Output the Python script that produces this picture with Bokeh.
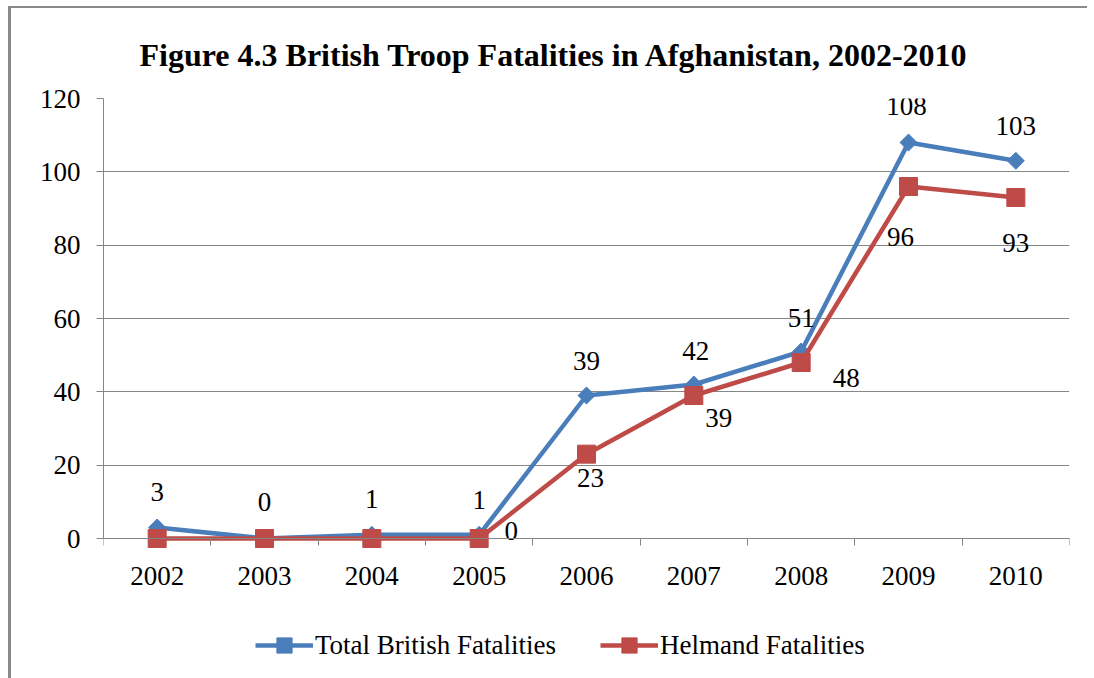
import math
from bokeh.plotting import figure
from bokeh.models import (ColumnDataSource, FixedTicker, BasicTickFormatter,
                          Legend, LegendItem)
from bokeh.core.properties import value
from bokeh.embed import file_html
from bokeh.resources import INLINE

# ---- data ----
years = [2002, 2003, 2004, 2005, 2006, 2007, 2008, 2009, 2010]
total_fatalities = [3, 0, 1, 1, 39, 42, 51, 108, 103]
helmand_fatalities = [0, 0, 0, 0, 23, 39, 48, 96, 93]
y_ticks = [0, 20, 40, 60, 80, 100, 120]
series_names = ["Total British Fatalities", "Helmand Fatalities"]
title_text = "Figure 4.3 British Troop Fatalities in Afghanistan, 2002-2010"

# ---- label placement (style, screen px; negative = up) ----
total_dx = [0, 0, 0, 0, 0, 2, 0, -2, 0]
total_dy = [-36, -37, -36, -35, -35, -34, -34, -37, -35]
helmand_show = [False, False, False, True, True, True, True, True, True]
helmand_dx = [0, 0, 0, 32, 4, 25, 45, -8, 0]
helmand_dy = [0, 0, 0, -8, 24, 22, 15, 50, 45]

BLUE = "#4A7EBB"
RED = "#BE4B48"
GRAY = "#868686"
FONT = "Liberation Serif"
FS = "27px"

# layout: the frame extends below the value axis to host the legend
PLOT_H = 440          # px for 0..120
BELOW_H = 140         # px below the zero line (axis labels + legend)
y_bottom = y_ticks[0] - (y_ticks[-1] - y_ticks[0]) * BELOW_H / PLOT_H

src_t = ColumnDataSource(dict(x=years, y=total_fatalities,
                              lbl=[str(v) for v in total_fatalities],
                              dx=total_dx, dy=total_dy))
hx = [x for x, s in zip(years, helmand_show) if s]
hy = [v for v, s in zip(helmand_fatalities, helmand_show) if s]
src_h = ColumnDataSource(dict(x=years, y=helmand_fatalities))
src_hl = ColumnDataSource(dict(
    x=hx, y=hy, lbl=[str(v) for v in hy],
    dx=[d for d, s in zip(helmand_dx, helmand_show) if s],
    dy=[d for d, s in zip(helmand_dy, helmand_show) if s]))

p = figure(frame_width=966, frame_height=PLOT_H + BELOW_H, output_backend="svg",
           toolbar_location=None,
           x_range=(years[0] - 0.5, years[-1] + 0.5),
           y_range=(y_bottom, y_ticks[-1]),
           min_border_left=92, min_border_right=18, min_border_top=90,
           min_border_bottom=0)
p.styles = {"margin-left": "8px", "margin-top": "6px",
            "border-left": "3px solid #8a8a8a", "border-top": "2px solid #8a8a8a"}
p.outline_line_color = None
p.background_fill_color = "white"
p.border_fill_color = "white"

p.title.text = title_text
p.title.text_font = FONT
p.title.text_font_style = "bold"
p.title.text_font_size = "32px"
p.title.text_color = "black"
p.title.align = "left"
p.title.offset = 36
p.title.standoff = 52

# x axis drawn on the zero line
p.xaxis.fixed_location = y_ticks[0]
p.xaxis.ticker = FixedTicker(ticks=years,
                             minor_ticks=[y - 0.5 for y in years] + [years[-1] + 0.5])
p.xaxis.formatter = BasicTickFormatter(use_scientific=False)
p.xaxis.major_tick_line_color = None
p.xaxis.minor_tick_line_color = GRAY
p.xaxis.minor_tick_in = 0
p.xaxis.minor_tick_out = 7
p.xaxis.axis_line_color = GRAY
p.xaxis.major_label_text_font = FONT
p.xaxis.major_label_text_font_size = FS
p.xaxis.major_label_text_color = "black"
p.xaxis.major_label_standoff = 21

# y axis
p.yaxis.ticker = FixedTicker(ticks=y_ticks, minor_ticks=[])
p.yaxis.bounds = (y_ticks[0], y_ticks[-1])
p.yaxis.major_tick_line_color = GRAY
p.yaxis.major_tick_in = 0
p.yaxis.major_tick_out = 7
p.yaxis.axis_line_color = GRAY
p.yaxis.major_label_text_font = FONT
p.yaxis.major_label_text_font_size = FS
p.yaxis.major_label_text_color = "black"
p.yaxis.major_label_standoff = 16

p.xgrid.grid_line_color = None
p.ygrid.grid_line_color = GRAY
p.ygrid.grid_line_width = 1

# series
lt = p.line("x", "y", source=src_t, line_color=BLUE, line_width=4.5)
mt = p.scatter("x", "y", source=src_t, marker="square", angle=math.pi / 4,
               size=12, fill_color=BLUE, line_color=BLUE)
lh = p.line("x", "y", source=src_h, line_color=RED, line_width=4.5)
mh = p.scatter("x", "y", source=src_h, marker="square", size=18,
               fill_color=RED, line_color=RED)

# data labels
p.text("x", "y", text="lbl", source=src_t, x_offset="dx", y_offset="dy",
       text_align="center", text_baseline="middle", text_font=value(FONT),
       text_font_size=FS, text_color="black")
p.text("x", "y", text="lbl", source=src_hl, x_offset="dx", y_offset="dy",
       text_align="center", text_baseline="middle", text_font=value(FONT),
       text_font_size=FS, text_color="black")

legend = Legend(items=[LegendItem(label=series_names[0], renderers=[lt, mt]),
                       LegendItem(label=series_names[1], renderers=[lh, mh])],
                orientation="horizontal", location=(152, 14),
                label_text_font=FONT, label_text_font_size=FS,
                label_text_color="black",
                glyph_width=58, glyph_height=38, label_standoff=2, spacing=44,
                border_line_color=None, background_fill_alpha=0,
                margin=0, padding=5)
p.add_layout(legend, "center")

open("out.html", "w").write(file_html(p, INLINE))
